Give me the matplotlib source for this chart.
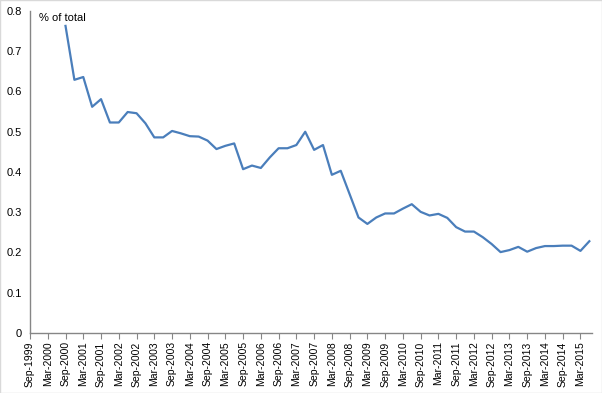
import numpy as np
import matplotlib
matplotlib.use('Agg')
import matplotlib.pyplot as plt
from matplotlib.patches import Rectangle

plt.rcParams['font.family'] = ['Liberation Sans', 'DejaVu Sans']

# quarterly series, Sep-2000 .. Jun-2015
values = [0.763, 0.629, 0.636, 0.562, 0.581, 0.523, 0.523, 0.549, 0.546, 0.521,
          0.486, 0.486, 0.502, 0.496, 0.489, 0.488, 0.478, 0.457, 0.465, 0.471,
          0.407, 0.416, 0.410, 0.436, 0.459, 0.459, 0.467, 0.500, 0.455, 0.467,
          0.393, 0.403, 0.345, 0.287, 0.271, 0.287, 0.297, 0.297, 0.309, 0.320,
          0.301, 0.292, 0.296, 0.286, 0.263, 0.252, 0.252, 0.238, 0.221, 0.201,
          0.206, 0.214, 0.202, 0.211, 0.216, 0.216, 0.217, 0.217, 0.204, 0.228]
first_quarter = 4  # Sep-2000, counted in quarters from Sep-1999

tick_labels = []
for yr in range(1999, 2016):
    if yr > 1999:
        tick_labels.append('Mar-%d' % yr)
    if yr < 2015:
        tick_labels.append('Sep-%d' % yr)

x = np.arange(len(values)) + first_quarter

fig = plt.figure(figsize=(6.02, 3.93), dpi=100)
ax = fig.add_axes([30/602, 1 - 333/393, 562/602, 322/393])
ax.plot(x, values, color='#4a7ebb', lw=1.6, solid_joinstyle='round')

ax.set_xlim(0, 63.3)
ax.set_ylim(0, 0.8)
ax.set_xticks(np.arange(len(tick_labels)) * 2)
ax.set_xticklabels(tick_labels, rotation=90, fontsize=7.5)
ax.set_yticks(np.arange(0, 0.81, 0.1))
ax.set_yticklabels(['0'] + ['%.1f' % v for v in np.arange(0.1, 0.81, 0.1)], fontsize=8)
ax.tick_params(axis='x', length=4, color='#868686', pad=2)
ax.tick_params(axis='y', length=0, pad=6)
for s in ['top', 'right']:
    ax.spines[s].set_visible(False)
for s in ['left', 'bottom']:
    ax.spines[s].set_color('#868686')
    ax.spines[s].set_linewidth(1)

fig.text(39/602, 1 - 18/393, '% of total', fontsize=8, va='center')
fig.patches.append(Rectangle((0, 0), 1, 1, transform=fig.transFigure, fill=False,
                             edgecolor='#d9d9d9', lw=1))

plt.savefig('out.png', dpi=100)
